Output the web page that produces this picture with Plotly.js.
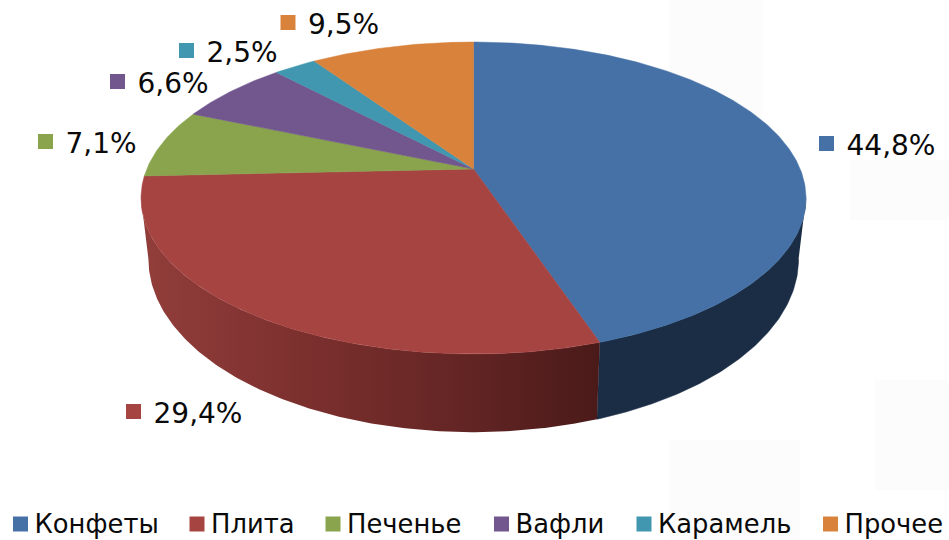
<!DOCTYPE html>
<html><head><meta charset="utf-8">
<script src="https://cdn.plot.ly/plotly-3.0.1.min.js"></script>
<style>html,body{margin:0;padding:0;background:#fff}#c{width:949px;height:540px}</style>
</head><body><div id="c"></div>
<script>
// --- data ---
var categories = ['Конфеты','Плита','Печенье','Вафли','Карамель','Прочее'];
var values = [44.8,29.4,7.1,6.6,2.5,9.5];
var valueLabels = ['44,8%','29,4%','7,1%','6,6%','2,5%','9,5%'];
var colors = ['#4571a7','#a64442','#89a44d','#72578e','#4197af','#d9823c'];
// --- layout of labels ---
var labelX = [826.5,133.5,45.5,117.5,186.5,288];
var labelY = [143.5,411.5,141.5,81.5,50.5,22.5];
var legendX = [20.5,197,333,501.5,644,830.5];
var legendY = 524;
// --- projection of the tilted disc ---
var CX=473.5, TOP={y0:169,a:326.7,b:150.6}, BOT={y0:227,a:319.4,b:167}, K=0.186;
function proj(d,th){var u=Math.sin(th),v=Math.cos(th),w=1+K*v;return [CX+d.a*u/w,d.y0-d.b*v/w];}
var total=values.reduce(function(a,b){return a+b;},0);
var starts=[],acc=0;values.forEach(function(v){starts.push(acc/total*2*Math.PI);acc+=v;});starts.push(2*Math.PI);
var edgeR=Math.acos(-K), edgeL=2*Math.PI-edgeR; // silhouette angles
function arc(d,a,b){var n=Math.max(4,Math.ceil(Math.abs(b-a)/0.01)),xs=[],ys=[];for(var i=0;i<=n;i++){var p=proj(d,a+(b-a)*i/n);xs.push(p[0]);ys.push(p[1]);}return [xs,ys];}
function wall(a,b){var t=arc(TOP,a,b),l=arc(BOT,b,a);return [t[0].concat(l[0]),t[1].concat(l[1])];}
var traces=[];
var wb=wall(edgeR,starts[1]);
traces.push({x:wb[0],y:wb[1],mode:'lines',fill:'toself',fillcolor:'#1a2d45',line:{width:0.5,color:'#1a2d45'},hoverinfo:'skip',showlegend:false});
var wr=wall(starts[1],edgeL);
traces.push({x:wr[0],y:wr[1],mode:'lines',fill:'toself',line:{width:0},hoverinfo:'skip',showlegend:false,
 fillgradient:{type:'horizontal',colorscale:[[0,'#923e3b'],[0.35,'#7c302e'],[0.7,'#632524'],[1,'#4a1a19']]}});
categories.forEach(function(c,i){
  var r=arc(TOP,starts[i],starts[i+1]);
  traces.push({x:[CX].concat(r[0],[CX]),y:[TOP.y0].concat(r[1],[TOP.y0]),mode:'lines',fill:'toself',fillcolor:colors[i],line:{width:0.5,color:colors[i]},name:c,hoverinfo:'name',showlegend:false});
});
traces.push({x:labelX,y:labelY,mode:'markers',marker:{symbol:'square',size:15,color:colors,line:{width:0}},hoverinfo:'skip',showlegend:false});
traces.push({x:labelX.map(function(x){return x+20;}),y:labelY.map(function(y){return y+4;}),mode:'text',text:valueLabels,textposition:'middle right',textfont:{family:'DejaVu Sans',size:28,color:'#0a0a0a'},hoverinfo:'skip',showlegend:false});
traces.push({x:legendX,y:legendX.map(function(){return legendY;}),mode:'markers',marker:{symbol:'square',size:15,color:colors,line:{width:0}},hoverinfo:'skip',showlegend:false});
traces.push({x:legendX.map(function(x){return x+14;}),y:legendX.map(function(){return legendY+2.5;}),mode:'text',text:categories,textposition:'middle right',textfont:{family:'DejaVu Sans',size:25.8,color:'#0a0a0a'},hoverinfo:'skip',showlegend:false});
var wm='#fcfcfc';
var layout={width:949,height:540,margin:{l:0,r:0,t:0,b:0},paper_bgcolor:'#fff',plot_bgcolor:'#fff',showlegend:false,
 xaxis:{range:[0,949],visible:false,fixedrange:true},yaxis:{range:[540,0],visible:false,fixedrange:true},
 shapes:[
  {type:'rect',layer:'below',x0:670,x1:762,y0:0,y1:150,fillcolor:wm,line:{width:0}},
  {type:'rect',layer:'below',x0:850,x1:949,y0:160,y1:220,fillcolor:wm,line:{width:0}},
  {type:'rect',layer:'below',x0:875,x1:949,y0:380,y1:490,fillcolor:wm,line:{width:0}},
  {type:'rect',layer:'below',x0:670,x1:800,y0:440,y1:540,fillcolor:wm,line:{width:0}}
 ]};
Plotly.newPlot('c',traces,layout,{displayModeBar:false,staticPlot:true});
</script></body></html>
